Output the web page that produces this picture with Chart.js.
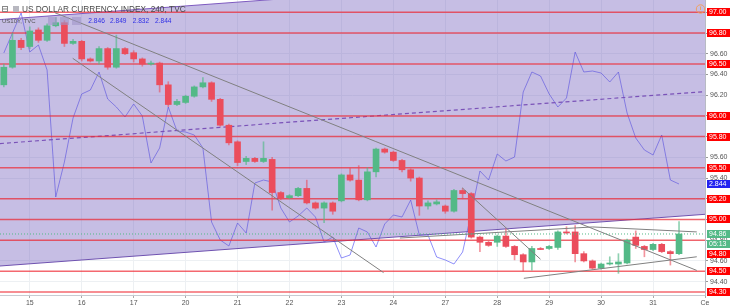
<!DOCTYPE html>
<html>
<head>
<meta charset="utf-8">
<script src="https://cdn.jsdelivr.net/npm/chart.js@4.4.1/dist/chart.umd.min.js"></script>
<style>
  html, body { margin: 0; padding: 0; background: #fff; }
  canvas { display: block; }
</style>
</head>
<body>
<canvas id="chart" width="730" height="308"></canvas>
<script>
/* ===========================
   DATA
=========================== */
const dayTicks  = [3, 9, 15, 21, 27, 33, 39, 45, 51, 57, 63, 69, 75, 81];
const dayLabels = ["15", "16", "17", "20", "21", "22", "23", "24", "27", "28", "29", "30", "31", "Ce"];

// DXY 4h candles
const opens  = [96.30, 96.47, 96.73, 96.67, 96.83, 96.73, 96.87, 96.90, 96.70, 96.72,
                96.55, 96.53, 96.65, 96.47, 96.65, 96.61, 96.55, 96.50, 96.51, 96.30,
                96.11, 96.13, 96.19, 96.28, 96.32, 96.16, 95.91, 95.75, 95.56, 95.59,
                95.56, 95.58, 95.26, 95.21, 95.23, 95.30, 95.16, 95.11, 95.16, 95.18,
                95.43, 95.38, 95.19, 95.46, 95.68, 95.65, 95.57, 95.48, 95.40, 95.13,
                95.15, 95.13, 95.08, 95.28, 95.25, 94.83, 94.78, 94.78, 94.84, 94.74,
                94.66, 94.59, 94.72, 94.72, 94.73, 94.88, 94.88, 94.67, 94.60, 94.53,
                94.57, 94.57, 94.58, 94.83, 94.74, 94.71, 94.76, 94.69, 94.67];
const highs  = [96.50, 96.80, 96.75, 96.86, 96.85, 96.89, 96.95, 96.92, 96.74, 96.73,
                96.56, 96.67, 96.66, 96.78, 96.66, 96.63, 96.56, 96.53, 96.52, 96.33,
                96.16, 96.20, 96.29, 96.37, 96.33, 96.17, 95.92, 95.76, 95.61, 95.60,
                95.75, 95.60, 95.27, 95.24, 95.31, 95.38, 95.17, 95.17, 95.17, 95.44,
                95.50, 95.52, 95.50, 95.69, 95.69, 95.66, 95.58, 95.49, 95.41, 95.18,
                95.19, 95.14, 95.29, 95.30, 95.26, 94.84, 94.79, 94.85, 94.91, 94.75,
                94.67, 94.74, 94.73, 94.75, 94.89, 94.93, 94.94, 94.69, 94.61, 94.58,
                94.64, 94.67, 94.81, 94.89, 94.75, 94.77, 94.77, 94.70, 94.98];
const lows   = [96.28, 96.46, 96.64, 96.65, 96.71, 96.72, 96.86, 96.67, 96.69, 96.53,
                96.52, 96.50, 96.45, 96.46, 96.59, 96.52, 96.48, 96.49, 96.23, 96.09,
                96.10, 96.12, 96.18, 96.27, 96.14, 95.90, 95.72, 95.52, 95.53, 95.55,
                95.55, 95.09, 95.19, 95.20, 95.22, 95.15, 95.10, 94.97, 95.05, 95.17,
                95.37, 95.18, 95.18, 95.41, 95.64, 95.56, 95.46, 95.37, 95.04, 95.10,
                95.14, 95.06, 95.07, 95.20, 94.82, 94.69, 94.74, 94.74, 94.73, 94.61,
                94.50, 94.51, 94.71, 94.71, 94.71, 94.86, 94.59, 94.59, 94.52, 94.52,
                94.56, 94.48, 94.57, 94.72, 94.64, 94.70, 94.68, 94.56, 94.66];
const closes = [96.47, 96.73, 96.66, 96.82, 96.73, 96.87, 96.90, 96.70, 96.72, 96.55,
                96.53, 96.65, 96.47, 96.65, 96.60, 96.55, 96.50, 96.51, 96.30, 96.11,
                96.14, 96.19, 96.28, 96.32, 96.16, 95.91, 95.74, 95.55, 95.59, 95.56,
                95.59, 95.26, 95.21, 95.23, 95.30, 95.16, 95.11, 95.16, 95.08, 95.43,
                95.38, 95.19, 95.46, 95.68, 95.65, 95.57, 95.48, 95.40, 95.13, 95.16,
                95.17, 95.08, 95.28, 95.25, 94.83, 94.78, 94.75, 94.84, 94.74, 94.66,
                94.59, 94.72, 94.71, 94.74, 94.88, 94.87, 94.67, 94.60, 94.53, 94.57,
                94.58, 94.59, 94.80, 94.75, 94.71, 94.76, 94.69, 94.67, 94.86];

// US10Y compare line
const us10y = [2.975, 2.995, 3.015, 2.976, 2.983, 2.958, 2.831, 2.866, 2.910, 2.934,
               2.938, 2.956, 2.929, 2.921, 2.911, 2.924, 2.912, 2.865, 2.880, 2.921,
               2.897, 2.896, 2.893, 2.880, 2.806, 2.788, 2.782, 2.805, 2.795, 2.845,
               2.848, 2.846, 2.820, 2.806, 2.812, 2.820, 2.811, 2.786, 2.791, 2.770,
               2.773, 2.800, 2.796, 2.781, 2.804, 2.813, 2.811, 2.828, 2.793, 2.793,
               2.771, 2.768, 2.764, 2.776, 2.815, 2.857, 2.848, 2.874, 2.867, 2.871,
               2.936, 2.956, 2.952, 2.934, 2.921, 2.930, 2.976, 2.956, 2.957, 2.955,
               2.946, 2.956, 2.915, 2.890, 2.878, 2.873, 2.893, 2.848, 2.844];
const us10yLegend = [2.846, 2.849, 2.832, 2.844];

const priceTicks = [94.4, 94.6, 94.8, 95.0, 95.2, 95.4, 95.6, 95.8, 96.0, 96.2, 96.4, 96.6, 96.8, 97.0];
const redLevels  = [97.00, 96.80, 96.50, 96.00, 95.80, 95.50, 95.20, 95.00, 94.80, 94.50, 94.30];

// drawings, [index, price] end points
const channelTop = [[-0.44, 96.93], [81, 97.43]];
const channelMid = [[-0.44, 95.733], [81, 96.235]];
const channelBot = [[-0.44, 94.551], [81, 95.05]];
const trendLines = [
    [[5.91, 96.996], [80.05, 94.508]],
    [[7.96, 96.556], [43.87, 94.487]],
    [[52.94, 95.307], [62.0, 94.616]],
    [[45.75, 94.821], [68.04, 94.928]],
    [[68.04, 94.928], [80.05, 94.880]],
    [[60.07, 94.432], [80.05, 94.640]]
];
const countdown = "05:13";

/* ===========================
   STYLE
=========================== */
const X_MIN = -0.44, X_MAX = 81;
const Y_MIN = 94.271, Y_MAX = 97.119;
const Y2_MIN = 2.733, Y2_MAX = 3.028;
const UP = "#53b987", DOWN = "#eb4d5c";
const FONT = '"Liberation Sans", Arial, sans-serif';

const pts = arr => arr.map(p => ({ x: p[0], y: p[1] }));
const isUp = i => closes[i] >= opens[i];

const datasets = [];

datasets.push({
    type: "line", label: "US10Y", yAxisID: "y2",
    data: us10y.map((v, i) => ({ x: i, y: v })),
    borderColor: "rgba(75,75,245,0.62)", borderWidth: 1, pointRadius: 0, tension: 0, order: 10
});
datasets.push({
    type: "line", yAxisID: "y", data: pts(channelTop),
    borderColor: "#7e5bc0", borderWidth: 1, pointRadius: 0, order: 8
});
datasets.push({
    type: "line", yAxisID: "y", data: pts(channelBot), fill: "-1",
    backgroundColor: "rgba(112,92,188,0.40)",
    borderColor: "#6f52b0", borderWidth: 1, pointRadius: 0, order: 9
});
datasets.push({
    type: "line", yAxisID: "y", data: pts(channelMid),
    borderColor: "#7a52b8", borderWidth: 1.2, borderDash: [4, 3], pointRadius: 0, order: 7
});
redLevels.forEach(v => datasets.push({
    type: "line", yAxisID: "y", data: [{ x: X_MIN, y: v }, { x: X_MAX, y: v }],
    borderColor: "rgba(240,40,50,0.7)", borderWidth: 1.5, pointRadius: 0, order: 6
}));
datasets.push({
    type: "bar", yAxisID: "y", grouped: false,
    data: lows.map((l, i) => ({ x: i, y: [l, highs[i]] })),
    backgroundColor: ctx => isUp(ctx.dataIndex) ? "rgba(83,185,135,0.65)" : "rgba(235,77,92,0.6)",
    barThickness: 1, order: 5
});
datasets.push({
    type: "bar", yAxisID: "y", grouped: false,
    data: opens.map((o, i) => ({ x: i, y: [o, closes[i]] })),
    backgroundColor: ctx => isUp(ctx.dataIndex) ? UP : DOWN,
    barThickness: 6, minBarLength: 1, order: 4
});
trendLines.forEach(t => datasets.push({
    type: "line", yAxisID: "y", data: pts(t),
    borderColor: "#808080", borderWidth: 1, pointRadius: 0, order: 3
}));
datasets.push({
    type: "line", yAxisID: "y",
    data: [{ x: X_MIN, y: closes[closes.length - 1] }, { x: X_MAX, y: closes[closes.length - 1] }],
    borderColor: UP, borderWidth: 1, borderDash: [1, 2], pointRadius: 0, order: 2
});

/* ===========================
   OVERLAY (axis tags, legend)
=========================== */
const overlay = {
    id: "overlay",
    afterDraw(chart) {
        const { ctx, chartArea: ca, scales } = chart;
        const y = scales.y, y2 = scales.y2;
        ctx.save();

        const boxX = ca.right + 2, boxW = chart.width - boxX, boxH = 8;
        ctx.font = "7px " + FONT;
        ctx.textBaseline = "middle";
        ctx.textAlign = "left";
        const tag = (yy, text, bg) => {
            ctx.fillStyle = bg;
            ctx.fillRect(boxX, Math.round(yy - boxH / 2), boxW, boxH);
            ctx.fillStyle = "#fff";
            ctx.fillText(text, boxX + 2, Math.round(yy) + 0.5);
        };

        const last = closes[closes.length - 1];
        const yl = y.getPixelForValue(last);
        const blockTop = yl - boxH / 2 - 1, blockBot = yl + 10 + boxH / 2 + 1;
        redLevels.forEach(v => {
            let yy = y.getPixelForValue(v);
            if (yy + boxH / 2 > blockTop && yy - boxH / 2 < blockBot) yy = blockBot + boxH / 2 + 1;
            tag(yy, v.toFixed(2), "#ff0000");
        });
        tag(yl, last.toFixed(2), UP);
        tag(yl + 10, countdown, UP);
        const lastY = us10y[us10y.length - 1];
        tag(y2.getPixelForValue(lastY), lastY.toFixed(3), "#2323f0");

        // legend, line 1
        ctx.strokeStyle = "#888";
        ctx.lineWidth = 1;
        ctx.strokeRect(2.5, 6.5, 5, 5);
        ctx.beginPath(); ctx.moveTo(3, 9); ctx.lineTo(7, 9); ctx.stroke();
        ctx.fillStyle = "#b8b8c0";
        ctx.fillRect(13, 6, 6, 6);
        ctx.fillStyle = "#4a4a4a";
        ctx.font = "8.3px " + FONT;
        ctx.fillText("US DOLLAR CURRENCY INDEX, 240, TVC", 22, 9.5);

        // legend, line 2
        ctx.font = "6px " + FONT;
        ctx.fillStyle = "#555";
        ctx.fillText("US10Y, TVC", 2, 21);
        ctx.fillStyle = "rgba(160,150,200,0.6)";
        [48, 60, 72].forEach(x => ctx.fillRect(x, 17, 9, 8));
        ctx.font = "6.6px " + FONT;
        ctx.fillStyle = "#2f2fe6";
        [88.3, 110, 132.7, 155].forEach((x, i) => ctx.fillText(us10yLegend[i].toFixed(3), x, 21));

        // warning icon
        ctx.strokeStyle = "#f0a060";
        ctx.beginPath(); ctx.arc(700.5, 9, 4.2, 0, Math.PI * 2); ctx.stroke();
        ctx.fillStyle = "#f0a060";
        ctx.fillRect(700, 6.5, 1, 3.5);
        ctx.fillRect(700, 11, 1, 1);

        ctx.restore();
    }
};

/* ===========================
   CHART
=========================== */
new Chart(document.getElementById("chart"), {
    type: "bar",
    data: { datasets },
    options: {
        responsive: false,
        animation: false,
        devicePixelRatio: 1,
        layout: { padding: 0 },
        plugins: { legend: { display: false }, tooltip: { enabled: false } },
        scales: {
            x: {
                type: "linear", min: X_MIN, max: X_MAX, offset: false,
                afterBuildTicks: s => { s.ticks = dayTicks.map(v => ({ value: v })); },
                afterFit: s => { s.height = 13; s.paddingLeft = 0; s.paddingRight = 0; },
                ticks: {
                    callback: v => dayLabels[dayTicks.indexOf(v)],
                    autoSkip: false, maxRotation: 0, padding: 1,
                    color: "#555", font: { family: FONT, size: 7 }
                },
                grid: { color: "#edf0f3", offset: false, tickLength: 3, tickColor: "#aaa" },
                border: { color: "#c8cbd2" }
            },
            y: {
                position: "right", min: Y_MIN, max: Y_MAX,
                afterBuildTicks: s => { s.ticks = priceTicks.map(v => ({ value: v })); },
                afterFit: s => { s.width = 25; s.paddingTop = 0; s.paddingBottom = 0; },
                ticks: {
                    callback: v => v.toFixed(2), padding: 2,
                    color: "#555", font: { family: FONT, size: 7 }
                },
                grid: { color: "#edf0f3", tickLength: 3, tickColor: "#999" },
                border: { color: "#b8bbc4" }
            },
            y2: { axis: "y", display: false, min: Y2_MIN, max: Y2_MAX }
        }
    },
    plugins: [overlay]
});
</script>
</body>
</html>
